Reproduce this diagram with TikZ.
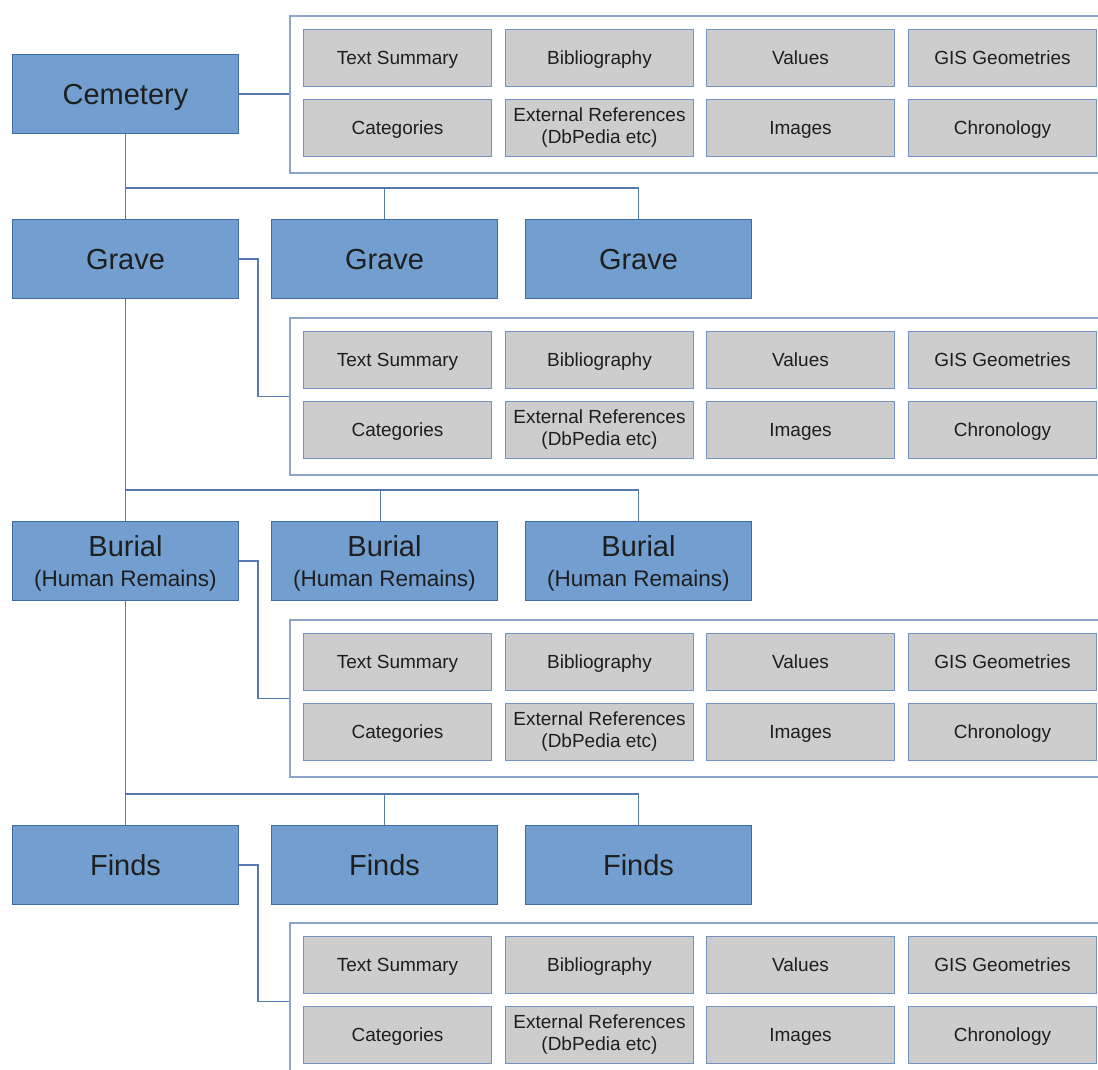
\documentclass[tikz,border=0pt]{standalone}
\usepackage{fontspec}
\setmainfont{Liberation Sans}
\definecolor{bfill}{HTML}{729FCF}
\definecolor{bline}{HTML}{3F6BA6}
\definecolor{gfill}{HTML}{CDCDCD}
\definecolor{gline}{HTML}{7593C2}
\definecolor{pline}{HTML}{8CA5CB}
\definecolor{cline}{HTML}{5679B0}
\definecolor{txt}{HTML}{1E1E1E}
\begin{document}
\begin{tikzpicture}[x=1pt,y=-1pt,
  bluebox/.style={draw=bline, line width=1pt, fill=bfill, minimum width=226pt,
    minimum height=79pt, inner sep=0pt, anchor=north west, text=txt,
    font=\fontsize{29}{30}\selectfont, align=center, text depth=0pt},
  boneline/.style={text height=20.8pt, text depth=0pt},
  panel/.style={draw=pline, line width=1.6pt, fill=white, minimum width=900pt,
    minimum height=157pt, inner sep=0pt, anchor=north west},
  graybox/.style={draw=gline, line width=1pt, fill=gfill, minimum width=188pt,
    minimum height=57pt, inner sep=0pt, anchor=north west, text=txt,
    font=\fontsize{19}{22}\selectfont, align=center},
  goneline/.style={text height=13.6pt, text depth=0pt},
  conn/.style={draw=cline, line width=1.3pt}]
\useasboundingbox (0,0) rectangle (1098,1070);
\clip (0,0) rectangle (1098,1070);
\fill[white] (0,0) rectangle (1098,1070);

% panels with gray boxes
\foreach \i/\t in {1/15,2/317,3/619,4/922}{
  \node[panel] (p\i) at (289,\t) {};
  \node[graybox, goneline] (p\i ts) at (303,\t+14) {Text Summary};
  \node[graybox, goneline] (p\i bi) at (505,\t+14) {Bibliography};
  \node[graybox, goneline] (p\i va) at (706,\t+14) {Values};
  \node[graybox, goneline] (p\i gi) at (908,\t+14) {GIS Geometries};
  \node[graybox, goneline] (p\i ca) at (303,\t+84) {Categories};
  \node[graybox] (p\i er) at (505,\t+84) {External References\\(DbPedia etc)};
  \node[graybox, goneline] (p\i im) at (706,\t+84) {Images};
  \node[graybox, goneline] (p\i ch) at (908,\t+84) {Chronology};
}

% blue boxes
\node[bluebox, boneline] (cem) at (12,54) {Cemetery};
\node[bluebox, boneline] (g1) at (12,219) {Grave};
\node[bluebox, boneline] (g2) at (271,219) {Grave};
\node[bluebox, boneline] (g3) at (525,219) {Grave};
\node[bluebox] (b1) at (12,521) {Burial\\[0pt]{\fontsize{22.5}{24}\selectfont(Human Remains)}};
\node[bluebox] (b2) at (271,521) {Burial\\[0pt]{\fontsize{22.5}{24}\selectfont(Human Remains)}};
\node[bluebox] (b3) at (525,521) {Burial\\[0pt]{\fontsize{22.5}{24}\selectfont(Human Remains)}};
\node[bluebox, boneline] (f1) at (12,825) {Finds};
\node[bluebox, boneline] (f2) at (271,825) {Finds};
\node[bluebox, boneline] (f3) at (525,825) {Finds};

% bus coordinates
\coordinate (bus1) at (0,188);
\coordinate (bus2) at (0,490);
\coordinate (bus3) at (0,794);

% tree connectors
\draw[conn] (cem.south) -- (g1.north);
\draw[conn] (cem.south |- bus1) -| (g3.north);
\draw[conn] (g2.north |- bus1) -- (g2.north);
\draw[conn] (g1.south) -- (b1.north);
\draw[conn] (g1.south |- bus2) -| (b3.north);
\draw[conn] ([xshift=-4pt]b2.north |- bus2) -- ([xshift=-4pt]b2.north);
\draw[conn] (b1.south) -- (f1.north);
\draw[conn] (b1.south |- bus3) -| (f3.north);
\draw[conn] (f2.north |- bus3) -- (f2.north);

% side connectors to panels
\draw[conn] (cem.east) -- (cem.east -| p1.west);
\draw[conn] (g1.east) -- ++(19,0) |- (p2.west);
\draw[conn] (b1.east) -- ++(19,0) |- (p3.west);
\draw[conn] (f1.east) -- ++(19,0) |- (p4.west);
\end{tikzpicture}
\end{document}
